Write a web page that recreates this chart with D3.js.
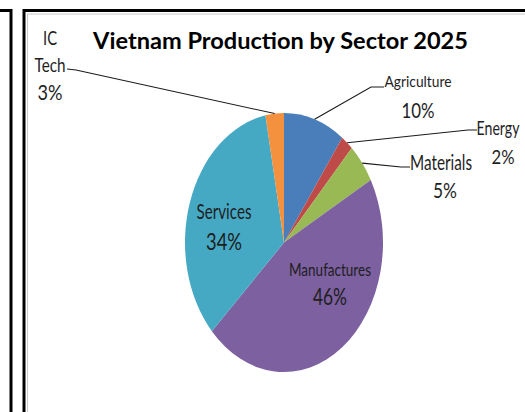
<!DOCTYPE html>
<html>
<head>
<meta charset="utf-8">
<script src="https://cdn.jsdelivr.net/npm/d3@7"></script>
<style>
  html, body { margin: 0; padding: 0; background: #fff; }
  svg { display: block; }
  text { font-family: Lato, "Open Sans", sans-serif; fill: #1e1e1e; }
</style>
</head>
<body>
<svg id="chart" width="525" height="412"></svg>
<script>
// Sector shares (percent), clockwise from twelve o'clock
const sectors = ["Agriculture", "Energy", "Materials", "Manufactures", "Services", "IC Tech"];
const shares  = [10, 2, 5, 46, 34, 3];
const colors  = ["#4a7ebb", "#be4b48", "#98b954", "#7d60a0", "#46a9c4", "#f3913f"];
const title   = "Vietnam Production by Sector 2025";

// Label placement: name lines and percentage line, each with baseline, centre x, width, size
const labelLayout = {
  "Agriculture":  { lines: [{ cx: 418, y: 87, w: 67, fs: 16 }], pct: { cx: 418, y: 118, w: 33, fs: 22 }, leader: [[371, 87], [384, 87]] },
  "Energy":       { lines: [{ cx: 498, y: 135, w: 43, fs: 19 }], pct: { cx: 503, y: 164, w: 23, fs: 19 }, leader: [[468, 130], [477, 130]] },
  "Materials":    { lines: [{ cx: 441, y: 170, w: 62, fs: 21 }], pct: { cx: 445, y: 198, w: 24, fs: 21 }, leader: [[401, 167], [410, 167]] },
  "Manufactures": { lines: [{ cx: 330, y: 276, w: 82, fs: 18 }], pct: { cx: 330, y: 305, w: 34, fs: 24 } },
  "Services":     { lines: [{ cx: 224, y: 219, w: 55, fs: 21 }], pct: { cx: 224, y: 250, w: 36, fs: 24 } },
  "IC Tech":      { lines: [{ cx: 50, y: 45, w: 14, fs: 19, t: "IC" }, { cx: 50, y: 72, w: 31, fs: 20, t: "Tech" }],
                    pct: { cx: 50, y: 100, w: 25, fs: 22 }, leader: [[76, 70], [67, 69]] }
};

const svg = d3.select("#chart");

// Writes a centred text, then narrows it horizontally to the wanted width
function fitText(parent, str, cx, y, w, fs, weight) {
  const t = parent.append("text")
    .attr("text-anchor", "middle")
    .attr("font-size", fs)
    .attr("font-weight", weight || 400)
    .text(str);
  const natural = t.node().getComputedTextLength();
  t.attr("transform", `translate(${cx},${y}) scale(${w / natural},1)`);
  return t;
}

// Frames around the panels
const frame = svg.append("g").attr("fill", "none");
frame.append("path").attr("d", "M0,10.5H11V412").attr("stroke", "#000").attr("stroke-width", 3);
frame.append("path").attr("d", "M24,412V10.5H525").attr("stroke", "#000").attr("stroke-width", 3);
frame.append("path").attr("d", "M27.5,412V14H525").attr("stroke", "#c8c8c8").attr("stroke-width", 1);

// Title
fitText(svg, title, 280.5, 49, 375, 22, 700).style("fill", "#000");

// Pie geometry: circle of radius ry stretched horizontally to rx
const cx = 284, cy = 242.5, rx = 99, ry = 129.5;
const data = sectors.map((s, i) => ({ name: s, value: shares[i], color: colors[i] }));
const pie = d3.pie().value(d => d.value).sort(null);
const arcs = pie(data);
const arc = d3.arc().innerRadius(0).outerRadius(ry);

svg.append("g")
  .attr("transform", `translate(${cx},${cy}) scale(${rx / ry},1)`)
  .selectAll("path")
  .data(arcs)
  .join("path")
  .attr("d", arc)
  .attr("fill", d => d.data.color);

// Point on the stretched rim at a slice's middle angle
function rimPoint(a) {
  const m = (a.startAngle + a.endAngle) / 2;
  return [cx + rx * Math.sin(m), cy - ry * Math.cos(m)];
}

// Leader lines for the outside labels
const lines = svg.append("g").attr("fill", "none").attr("stroke", "#1a1a1a").attr("stroke-width", 1.1);
arcs.forEach(a => {
  const lay = labelLayout[a.data.name];
  if (!lay.leader) return;
  const pts = [rimPoint(a), ...lay.leader];
  lines.append("path").attr("d", d3.line()(pts));
});

// Labels
const lab = svg.append("g");
arcs.forEach(a => {
  const lay = labelLayout[a.data.name];
  lay.lines.forEach(l => fitText(lab, l.t || a.data.name, l.cx, l.y, l.w, l.fs));
  const p = lay.pct;
  fitText(lab, a.data.value + "%", p.cx, p.y, p.w, p.fs);
});
</script>
</body>
</html>
